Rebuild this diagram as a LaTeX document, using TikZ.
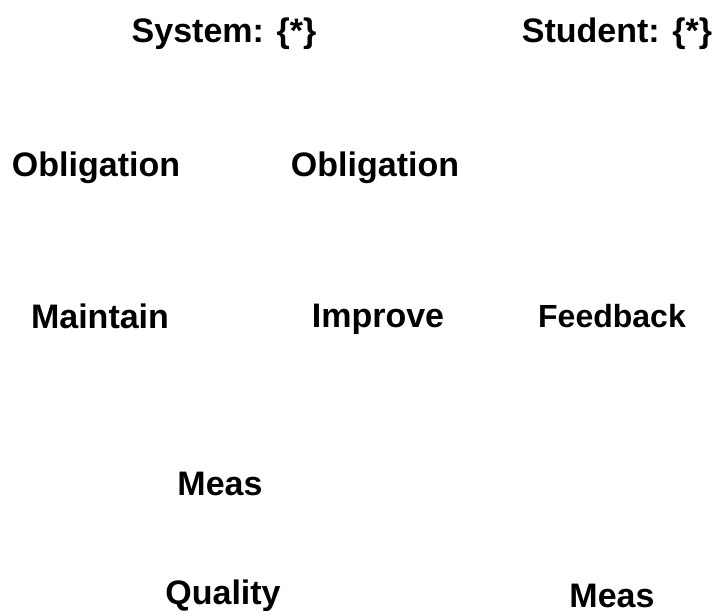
\documentclass[tikz,border=0pt]{standalone}
\usepackage{fontspec}
\setmainfont{Liberation Sans}
\usetikzlibrary{positioning}
\tikzset{lbl/.style={font=\bfseries\fontsize{34}{40}\selectfont,inner sep=0pt}}

\begin{document}
\begin{tikzpicture}[x=1pt,y=-1pt]
    \useasboundingbox (0,0) rectangle (713,616);
    \node[lbl] (sys) at (224,34){System: \{*\}};
    \node[lbl] (stu) at (617,34){Student: \{*\}};
    \node[lbl] (obl1) at (96,168){Obligation};
    \node[lbl] (obl2) at (375,168){Obligation};
    \node[lbl] (maint) at (100,316){Maintain};
    \node[lbl] (impr) at (378,319){Improve};
    \node[lbl,font=\bfseries\fontsize{32}{36}\selectfont] (fb) at (612,316){Feedback};
    \node[lbl] (meas1) at (220,484){Meas};
    \node[lbl] (qual) at (223,596){Quality};
    \node[lbl] (meas2) at (612,596){Meas};
  \end{tikzpicture}
\end{document}
